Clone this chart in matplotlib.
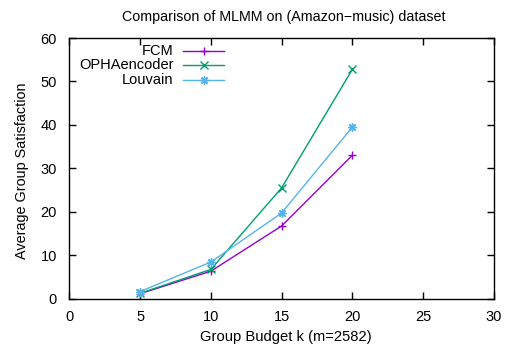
import matplotlib
matplotlib.use("Agg")
import matplotlib.pyplot as plt

plt.rcParams['font.family'] = ['Liberation Sans', 'DejaVu Sans']

budgets = [5, 10, 15, 20]
fcm = [1.1, 6.3, 16.7, 33.0]
opha = [1.2, 6.7, 25.5, 52.8]
louvain = [1.6, 8.4, 19.7, 39.5]
series_names = ["FCM", "OPHAencoder", "Louvain"]
colors = ["#9400D3", "#009E73", "#56B4E9"]
markers = ["+", "x", (8, 2, 0)]
xticks = [0, 5, 10, 15, 20, 25, 30]
yticks = [0, 10, 20, 30, 40, 50, 60]

fig = plt.figure(figsize=(5.08, 3.45), dpi=100)
ax = fig.add_axes([69.3 / 508, 1 - 298.5 / 345, 424.7 / 508, 260.5 / 345])

for vals, c, m in zip([fcm, opha, louvain], colors, markers):
    ax.plot(budgets, vals, color=c, marker=m, lw=1.0, ms=6, mew=1.0)

ax.set_xlim(0, 30)
ax.set_ylim(0, 60)
ax.set_xticks(xticks)
ax.set_yticks(yticks)
ax.tick_params(direction='in', top=True, right=True, length=5, width=1, labelsize=10.5)
ax.tick_params(axis='x', pad=8)
ax.tick_params(axis='y', pad=9)
for s in ax.spines.values():
    s.set_linewidth(1.0)

ax.text(0.51, -0.148, "Group Budget k (m=2582)", transform=ax.transAxes,
        ha='center', va='center', fontsize=10.6)
ax.text(-0.111, 0.49, "Average Group Satisfaction", transform=ax.transAxes,
        ha='center', va='center', rotation=90, fontsize=10.4)
fig.text(284 / 508, 1 - 17 / 345, "Comparison of MLMM on (Amazon\u2212music) dataset",
         ha='center', va='center', fontsize=10.3)

# gnuplot-style legend: text right-aligned, sample to the right
ys = [0.950, 0.896, 0.838]
for name, c, m, yy in zip(series_names, colors, markers, ys):
    ax.text(0.245, yy, name, transform=ax.transAxes, ha='right', va='center', fontsize=10.5)
    ax.plot([0.268, 0.365], [yy, yy], transform=ax.transAxes, color=c, lw=1.0)
    ax.plot([0.3165], [yy], transform=ax.transAxes, color=c, marker=m, ms=6, mew=1.0)

fig.savefig("out.png", dpi=100)
